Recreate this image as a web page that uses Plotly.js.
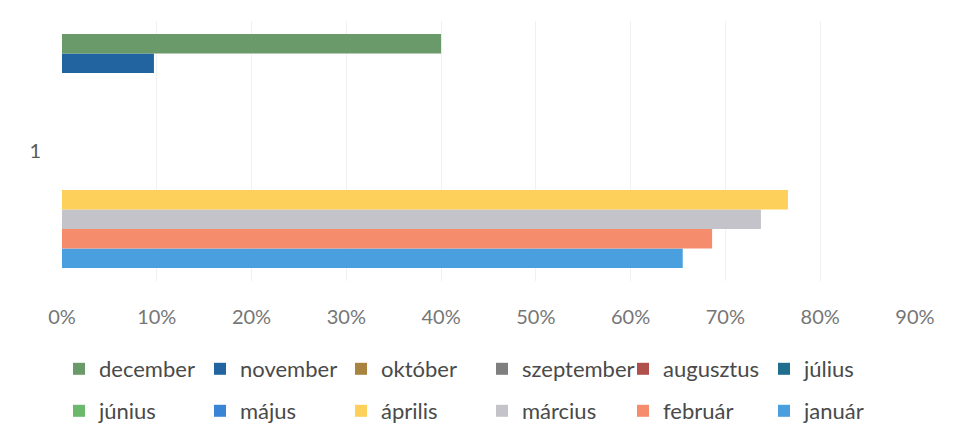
<!DOCTYPE html>
<html>
<head>
<meta charset="utf-8">
<script src="https://cdn.plot.ly/plotly-3.0.1.min.js"></script>
<style>html,body{margin:0;padding:0;background:#fff;}#chart{width:954px;height:443px;}</style>
</head>
<body>
<div id="chart"></div>
<script>
var category = ['1'];
var months = ['január','február','március','április','május','június','július','augusztus','szeptember','október','november','december'];
var values = [0.655, 0.686, 0.7375, 0.766, 0, 0, 0, 0, 0, 0, 0.097, 0.40];
var colors = ['#4a9fdf','#f58c6c','#c4c3c9','#fdd05c','#3a84d6','#6cb86c','#1f6e8e','#b0504c','#7f7f7f','#a88440','#21649f','#6a9a6a'];
var xTicks = [0,0.1,0.2,0.3,0.4,0.5,0.6,0.7,0.8,0.9];

var traces = months.map(function(m, i){
  return {
    type: 'bar', orientation: 'h', name: m,
    y: category, x: [values[i]],
    marker: {color: colors[i]},
    legend: i >= 6 ? 'legend' : 'legend2',
    hoverinfo: 'x+name'
  };
});

var legendCommon = {
  orientation: 'h', traceorder: 'reversed',
  xref: 'container', yref: 'container',
  xanchor: 'left', yanchor: 'top',
  entrywidth: 96,
  font: {family: 'Lato, "Open Sans", sans-serif', size: 22, color: '#4a4a4a'},
  bgcolor: 'rgba(0,0,0,0)'
};

var layout = {
  width: 954, height: 443,
  margin: {l: 62, r: 39, t: 21, b: 162},
  paper_bgcolor: '#ffffff', plot_bgcolor: '#ffffff',
  barmode: 'group', bargap: 0.1, bargroupgap: 0,
  font: {family: 'Lato, "Open Sans", sans-serif'},
  xaxis: {
    range: [0, 0.9001], tickvals: xTicks, tickformat: '.0%',
    showgrid: true, gridcolor: '#f1f1f1', zeroline: false, showline: false,
    ticks: '', ticklabelstandoff: 22,
    tickfont: {family: 'Lato, "Open Sans", sans-serif', size: 20, color: '#767676'}
  },
  yaxis: {
    type: 'category', showgrid: false, zeroline: false, showline: false,
    ticks: '', ticklabelstandoff: 20,
    tickfont: {family: 'Lato, "Open Sans", sans-serif', size: 20, color: '#5a5a5a'}
  },
  legend: Object.assign({}, legendCommon, {x: 59/954, y: 1 - 348/443}),
  legend2: Object.assign({}, legendCommon, {x: 59/954, y: 1 - 390/443}),
  showlegend: true
};

Plotly.newPlot('chart', traces, layout, {displayModeBar: false, staticPlot: true});
</script>
</body>
</html>
